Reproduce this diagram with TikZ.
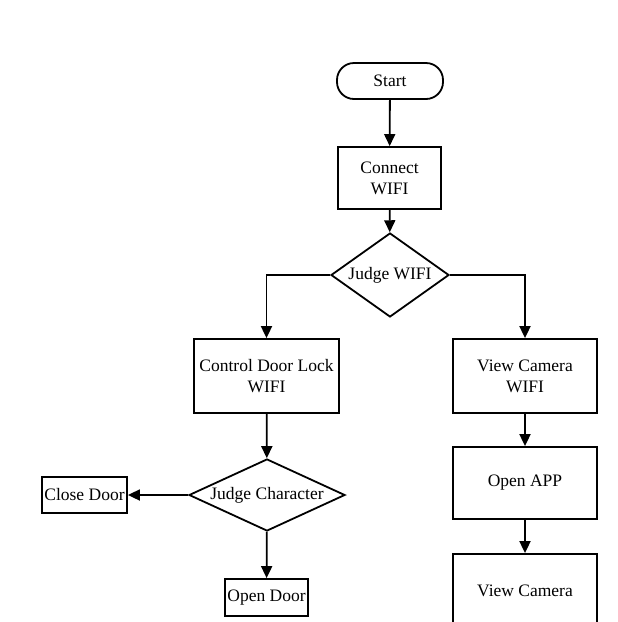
\documentclass[tikz,border=0pt]{standalone}
\usepackage{fontspec}
\setmainfont{Liberation Serif}
\usetikzlibrary{shapes.geometric,arrows.meta}
\begin{document}
\begin{tikzpicture}[x=1pt,y=-1pt,
  every node/.style={font=\fontsize{17.5}{21}\selectfont, align=center, line width=1.8pt, draw=black},
  boxnode/.style={rectangle, inner sep=0pt},
  termnode/.style={rectangle, rounded corners=17pt, inner sep=0pt},
  decnode/.style={diamond, inner sep=0pt},
  conn/.style={draw=black, line width=1.8pt, -{Triangle[length=12pt,width=11pt]}}]
\fill[white] (0,0) rectangle (618,622);
\useasboundingbox (0,0) rectangle (618,622);
\node[termnode, minimum width=106pt, minimum height=36pt] (start) at (390,81) {Start};
\node[boxnode, minimum width=103pt, minimum height=62pt] (connect) at (389.5,178) {Connect\\WIFI};
\node[decnode, minimum width=118pt, minimum height=84pt] (jw) at (390,275) {\makebox[0pt]{Judge WIFI}};
\node[boxnode, minimum width=145pt, minimum height=74pt] (cdl) at (266.5,376) {Control Door Lock\\WIFI};
\node[boxnode, minimum width=144pt, minimum height=74pt] (vcw) at (525,376) {View Camera\\WIFI};
\node[boxnode, minimum width=144pt, minimum height=72pt] (oapp) at (525,483) {Open APP};
\node[boxnode, minimum width=144pt, minimum height=74pt] (vc) at (525,591) {View Camera};
\node[decnode, minimum width=156pt, minimum height=72pt] (jc) at (267,495) {\makebox[0pt]{Judge Character}};
\node[boxnode, minimum width=85pt, minimum height=36pt] (close) at (84.5,495) {Close Door};
\node[boxnode, minimum width=83pt, minimum height=37pt] (open) at (266.5,597.5) {Open Door};
\draw[conn] (start) -- (connect);
\draw[conn] (connect) -- (jw);
\draw[conn] (jw.west) -| (cdl.north);
\draw[conn] (jw.east) -| (vcw.north);
\draw[conn] (cdl) -- (jc);
\draw[conn] (jc.west) -- (close.east);
\draw[conn] (jc) -- (open);
\draw[conn] (vcw) -- (oapp);
\draw[conn] (oapp) -- (vc);
\end{tikzpicture}
\end{document}
